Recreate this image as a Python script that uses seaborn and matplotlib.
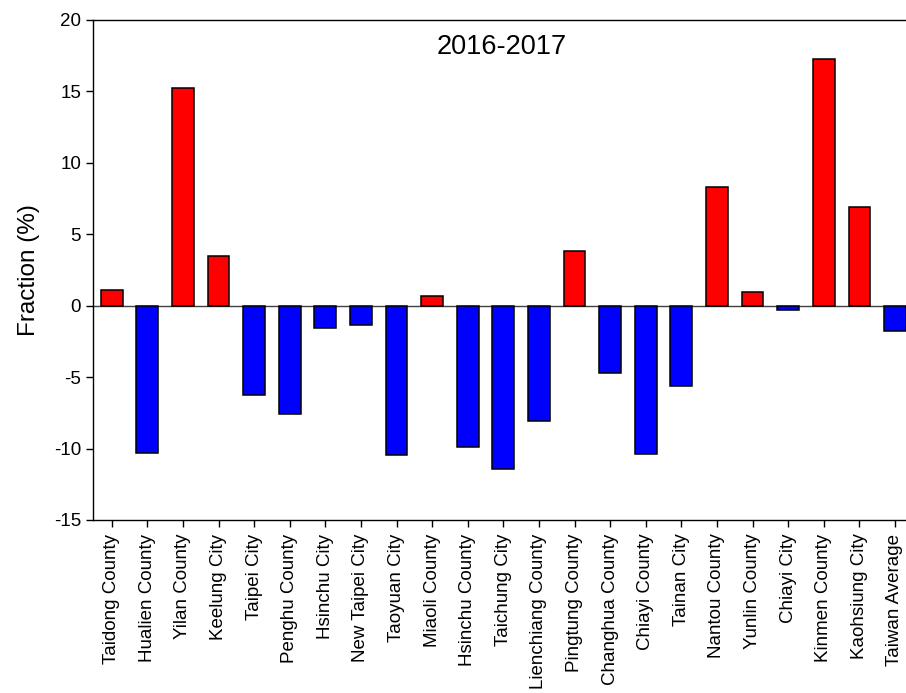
import matplotlib
matplotlib.use("Agg")
import matplotlib.pyplot as plt
import seaborn as sns
import pandas as pd

# Regions along the x axis
regions = [
    "Taidong County", "Hualien County", "Yilan County", "Keelung City",
    "Taipei City", "Penghu County", "Hsinchu City", "New Taipei City",
    "Taoyuan City", "Miaoli County", "Hsinchu County", "Taichung City",
    "Lienchiang County", "Pingtung County", "Changhua County", "Chiayi County",
    "Tainan City", "Nantou County", "Yunlin County", "Chiayi City",
    "Kinmen County", "Kaohsiung City", "Taiwan Average",
]

# Change in fraction (%) for 2016-2017
fraction = [
    1.10, -10.33, 15.27, 3.46,
    -6.22, -7.58, -1.54, -1.33,
    -10.47, 0.68, -9.86, -11.43,
    -8.07, 3.85, -4.73, -10.40,
    -5.63, 8.28, 0.93, -0.30,
    17.27, 6.93, -1.80,
]

yticks = [-15, -10, -5, 0, 5, 10, 15, 20]

df = pd.DataFrame({"region": regions, "fraction": fraction})
df["sign"] = ["up" if v >= 0 else "down" for v in df["fraction"]]

sns.set_style("white")
plt.rcParams["font.family"] = ["Liberation Sans", "DejaVu Sans"]
plt.rcParams["text.color"] = "black"
plt.rcParams["axes.labelcolor"] = "black"
plt.rcParams["xtick.color"] = "black"
plt.rcParams["ytick.color"] = "black"

W, H = 906, 693
fig = plt.figure(figsize=(W / 100, H / 100), dpi=100)
left, right, top, bottom = 93.3, 906, 20, 520
ax = fig.add_axes([left / W, 1 - bottom / H, (right - left) / W, (bottom - top) / H])

sns.barplot(
    data=df, x="region", y="fraction", hue="sign",
    palette={"up": "#FF0000", "down": "#0000FF"}, saturation=1,
    dodge=False, width=0.61, edgecolor="black", linewidth=1.1,
    legend=False, ax=ax, zorder=3,
)

ax.axhline(0, color="#404040", linewidth=1.0, zorder=2)

ax.set_xlim(-0.517, 22.31)
ax.set_ylim(-15, 20)
ax.set_yticks(yticks)
ax.set_yticklabels([str(t) for t in yticks])

ax.set_xlabel("")
ax.set_ylabel("Fraction (%)", fontsize=17.5, labelpad=10)
ax.tick_params(axis="x", labelrotation=90, labelsize=13.5, direction="out",
               length=4.8, width=1.0, color="black", labelcolor="black",
               pad=5, bottom=True)
ax.tick_params(axis="y", labelsize=13.5, direction="out",
               length=4.8, width=1.0, color="black", labelcolor="black",
               pad=4, left=True)

for side in ["left", "bottom", "top"]:
    ax.spines[side].set_visible(True)
    ax.spines[side].set_color("black")
    ax.spines[side].set_linewidth(1.0)
ax.spines["right"].set_visible(False)

ax.text(0.503, 0.946, "2016-2017", transform=ax.transAxes,
        ha="center", va="center", fontsize=19.5, color="black")

fig.savefig("out.png", dpi=100)
